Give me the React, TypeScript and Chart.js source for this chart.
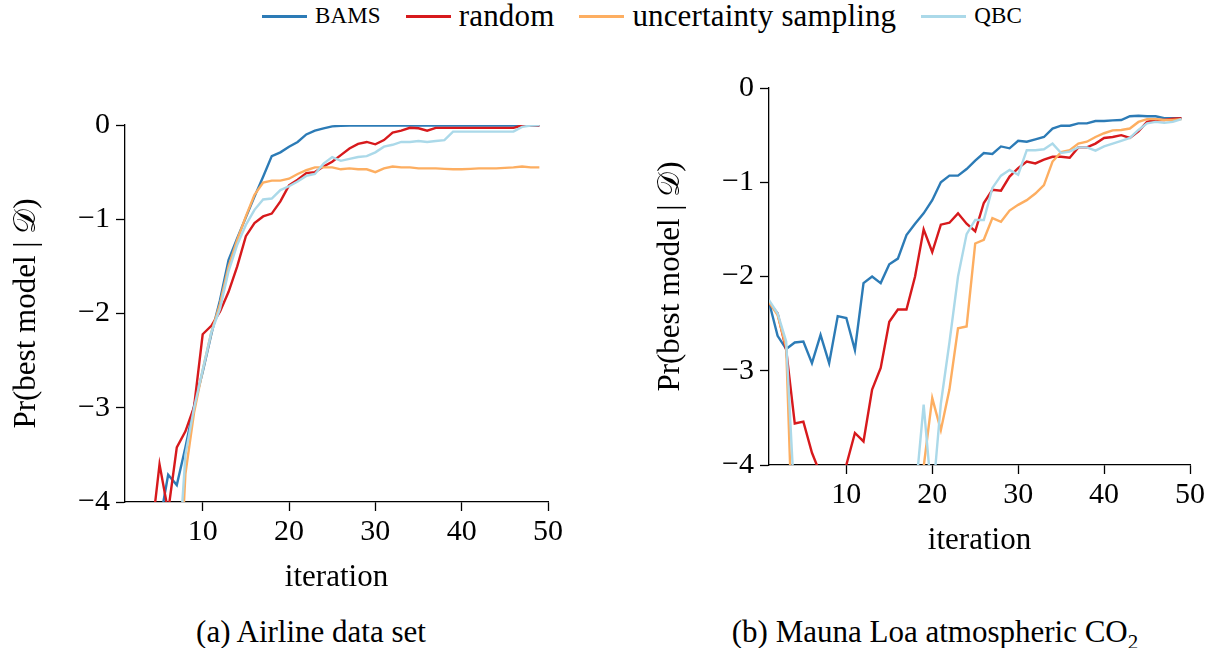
import React, { useEffect, useRef } from "react";
import { Chart, registerables } from "chart.js";

Chart.register(...registerables);

// ---------- data ----------
const ITERATIONS = [
  1, 2, 3, 4, 5, 6, 7, 8, 9, 10, 11, 12, 13, 14, 15, 16, 17, 18, 19, 20, 21, 22, 23, 24, 25,
  26, 27, 28, 29, 30, 31, 32, 33, 34, 35, 36, 37, 38, 39, 40, 41, 42, 43, 44, 45, 46, 47, 48, 49,
];
const X_TICKS = [10, 20, 30, 40, 50];
const Y_TICKS = [0, -1, -2, -3, -4];

const SERIES_LABELS = ["BAMS", "random", "uncertainty sampling", "QBC"];
const SERIES_COLORS = ["#2c7bb6", "#d7191c", "#fdae61", "#abd9e9"];

// (a) Airline data set
const AIRLINE_BAMS = [
  -6, -6, -6, -6, -4.23, -3.71, -3.82, -3.42, -2.98, -2.62, -2.22, -1.86, -1.43, -1.2, -0.98,
  -0.76, -0.55, -0.33, -0.29, -0.23, -0.18, -0.1, -0.06, -0.035, -0.015, -0.008, -0.005, -0.005,
  -0.005, -0.005, -0.005, -0.005, -0.005, -0.005, -0.005, -0.005, -0.005, -0.005, -0.005, -0.005,
  -0.005, -0.005, -0.005, -0.005, -0.005, -0.005, -0.005, -0.005, -0.005,
];
const AIRLINE_RANDOM = [
  -6, -6, -6, -4.4, -3.6, -4.1, -3.42, -3.25, -2.99, -2.22, -2.13, -1.98, -1.77, -1.5, -1.18,
  -1.04, -0.97, -0.94, -0.81, -0.64, -0.58, -0.51, -0.5, -0.44, -0.39, -0.32, -0.25, -0.2, -0.18,
  -0.205, -0.16, -0.08, -0.06, -0.03, -0.035, -0.06, -0.03, -0.03, -0.03, -0.03, -0.03, -0.03,
  -0.03, -0.03, -0.03, -0.03, -0.005, 0, -0.005,
];
const AIRLINE_UNCERTAINTY = [
  -8, -8, -8, -8, -8, -8, -5.5, -3.7, -3.05, -2.6, -2.2, -1.9, -1.5, -1.22, -0.97, -0.74, -0.61,
  -0.59, -0.59, -0.57, -0.52, -0.48, -0.45, -0.45, -0.45, -0.47, -0.46, -0.47, -0.47, -0.5, -0.46,
  -0.44, -0.45, -0.45, -0.46, -0.46, -0.46, -0.465, -0.47, -0.47, -0.465, -0.46, -0.46, -0.46,
  -0.455, -0.45, -0.44, -0.45, -0.45,
];
const AIRLINE_QBC = [
  -8, -8, -8, -8, -8, -8, -4.9, -3.5, -3.0, -2.6, -2.2, -1.95, -1.55, -1.27, -1.06, -0.9, -0.79,
  -0.78, -0.69, -0.65, -0.6, -0.54, -0.52, -0.41, -0.34, -0.38, -0.36, -0.34, -0.33, -0.29, -0.23,
  -0.21, -0.18, -0.18, -0.17, -0.18, -0.17, -0.16, -0.07, -0.07, -0.07, -0.07, -0.07, -0.07,
  -0.07, -0.07, -0.02, -0.005, 0,
];

// (b) Mauna Loa atmospheric CO2
const MAUNA_BAMS = [
  -2.27, -2.63, -2.77, -2.7, -2.69, -2.92, -2.62, -2.92, -2.42, -2.44, -2.78, -2.07, -2.0, -2.07,
  -1.87, -1.81, -1.56, -1.44, -1.33, -1.19, -1.0, -0.93, -0.93, -0.86, -0.77, -0.69, -0.7, -0.62,
  -0.64, -0.56, -0.57, -0.545, -0.52, -0.43, -0.4, -0.4, -0.375, -0.375, -0.35, -0.35, -0.343,
  -0.34, -0.3, -0.295, -0.3, -0.3, -0.32, -0.32, -0.32,
];
const MAUNA_RANDOM = [
  -2.28, -2.39, -2.78, -3.56, -3.54, -3.87, -4.1, -4.5, -4.5, -4.0, -3.66, -3.75, -3.2, -2.97,
  -2.48, -2.35, -2.35, -2.0, -1.5, -1.74, -1.45, -1.43, -1.33, -1.44, -1.52, -1.22, -1.08, -1.09,
  -0.94, -0.85, -0.78, -0.8, -0.76, -0.73, -0.73, -0.74, -0.63, -0.63, -0.59, -0.53, -0.52, -0.5,
  -0.53, -0.46, -0.36, -0.34, -0.34, -0.325, -0.32,
];
const MAUNA_UNCERTAINTY = [
  -2.27, -2.41, -2.75, -5.5, -7, -7, -7, -7, -7, -7, -7, -7, -7, -7, -7, -7, -7, -5.0, -4.02,
  -3.29, -3.63, -3.2, -2.55, -2.53, -1.65, -1.61, -1.38, -1.42, -1.3, -1.24, -1.19, -1.12, -1.03,
  -0.78, -0.68, -0.66, -0.59, -0.57, -0.52, -0.48, -0.45, -0.445, -0.43, -0.36, -0.33, -0.33,
  -0.34, -0.34, -0.33,
];
const MAUNA_QBC = [
  -2.25, -2.39, -2.69, -4.45, -7, -7, -7, -7, -7, -7, -7, -7, -7, -7, -7, -7, -6, -4.35, -3.36,
  -4.4, -3.35, -2.7, -2.0, -1.55, -1.4, -1.4, -1.06, -0.93, -0.87, -0.92, -0.66, -0.66, -0.65,
  -0.59, -0.69, -0.675, -0.63, -0.63, -0.665, -0.62, -0.59, -0.56, -0.53, -0.445, -0.375, -0.36,
  -0.37, -0.36, -0.33,
];

const X_TITLE = "iteration";
const Y_TITLE = "Pr(best model | \u{1D49F})";
const CAPTION_A = "(a) Airline data set";
const CAPTION_B_MAIN = "(b) Mauna Loa atmospheric CO";
const CAPTION_B_SUB = "2";

// ---------- styling ----------
const FONT = "'Liberation Serif', 'DejaVu Serif', serif";
const CANVAS_W_A = 600;
const CANVAS_W_B = 571;
const CANVAS_H = 540;

Chart.defaults.font.family = FONT;
Chart.defaults.color = "#000";

const fmtTick = (v: number) => (v < 0 ? "\u2212" + Math.abs(v) : String(v));

function makeConfig(series: number[][], padRight: number): any {
  return {
    type: "line",
    data: {
      datasets: series.map((vals, i) => ({
        label: SERIES_LABELS[i],
        data: ITERATIONS.map((x, j) => ({ x, y: vals[j] })),
        borderColor: SERIES_COLORS[i],
        backgroundColor: SERIES_COLORS[i],
        borderWidth: 2.4,
        pointRadius: 0,
        tension: 0,
        fill: false,
        order: series.length - i,
      })),
    },
    options: {
      animation: false,
      responsive: false,
      devicePixelRatio: 1,
      events: [],
      font: { family: FONT },
      layout: { padding: { left: 0, top: 65, right: padRight, bottom: 0 } },
      plugins: { legend: { display: false }, tooltip: { enabled: false } },
      scales: {
        x: {
          type: "linear",
          min: 1,
          max: 50,
          afterBuildTicks: (s: any) => {
            s.ticks = X_TICKS.map((v) => ({ value: v }));
          },
          afterFit: (s: any) => {
            s.height = 98;
          },
          grid: {
            display: true,
            drawOnChartArea: false,
            drawTicks: true,
            tickLength: 9,
            tickColor: "#000",
            tickWidth: 1.3,
          },
          border: { display: true, color: "#000", width: 1.3 },
          ticks: {
            color: "#000",
            font: { family: FONT, size: 30 },
            padding: 3,
            maxRotation: 0,
            autoSkip: false,
          },
          title: {
            display: true,
            text: X_TITLE,
            color: "#000",
            font: { family: FONT, size: 31, lineHeight: 1.2 },
            padding: { top: 0, bottom: 4 },
          },
        },
        y: {
          type: "linear",
          min: -4,
          max: 0,
          afterBuildTicks: (s: any) => {
            s.ticks = Y_TICKS.map((v) => ({ value: v }));
          },
          afterFit: (s: any) => {
            s.width = 125;
          },
          grid: {
            display: true,
            drawOnChartArea: false,
            drawTicks: true,
            tickLength: 9,
            tickColor: "#000",
            tickWidth: 1.3,
          },
          border: { display: true, color: "#000", width: 1.3 },
          ticks: {
            color: "#000",
            font: { family: FONT, size: 30 },
            padding: 6,
            callback: (v: number) => fmtTick(v),
          },
          title: {
            display: true,
            text: Y_TITLE,
            color: "#000",
            font: { family: FONT, size: 31, lineHeight: 1.2 },
            padding: { top: 8, bottom: 0 },
          },
        },
      },
    },
  };
}

function LineChart(props: { series: number[][]; width: number; padRight: number; left: number; top: number }) {
  const ref = useRef<HTMLCanvasElement | null>(null);
  useEffect(() => {
    if (!ref.current) return;
    const chart = new Chart(ref.current, makeConfig(props.series, props.padRight));
    return () => chart.destroy();
  }, []);
  return (
    <canvas
      ref={ref}
      width={props.width}
      height={CANVAS_H}
      style={{ position: "absolute", left: props.left, top: props.top, width: props.width, height: CANVAS_H }}
    />
  );
}

function Legend() {
  return (
    <div
      style={{
        position: "absolute",
        left: 262,
        top: 0,
        height: 32,
        display: "flex",
        alignItems: "center",
        fontFamily: FONT,
        fontSize: 31,
        color: "#000",
        whiteSpace: "nowrap",
      }}
    >
      {SERIES_LABELS.map((lab, i) => (
        <div key={lab} style={{ display: "flex", alignItems: "center", marginRight: 25 }}>
          <div style={{ width: 45, height: 3, background: SERIES_COLORS[i], marginRight: 8 }} />
          <span
            style={{
              fontSize: lab === "BAMS" || lab === "QBC" ? 23 : 31,
              letterSpacing: 0.15,
              lineHeight: "32px",
            }}
          >
            {lab}
          </span>
        </div>
      ))}
    </div>
  );
}

export default function App() {
  return (
    <div
      style={{
        position: "fixed",
        left: 0,
        top: 0,
        width: 1215,
        height: 648,
        background: "#fff",
        overflow: "hidden",
      }}
    >
      <Legend />
      <LineChart
        series={[AIRLINE_BAMS, AIRLINE_RANDOM, AIRLINE_UNCERTAINTY, AIRLINE_QBC]}
        width={CANVAS_W_A}
        padRight={52}
        left={0}
        top={60}
      />
      <LineChart
        series={[MAUNA_BAMS, MAUNA_RANDOM, MAUNA_UNCERTAINTY, MAUNA_QBC]}
        width={CANVAS_W_B}
        padRight={25}
        left={644}
        top={23}
      />
      <div
        style={{
          position: "absolute",
          left: 311 - 300,
          width: 600,
          top: 614,
          textAlign: "center",
          fontFamily: FONT,
          fontSize: 31,
          lineHeight: "36px",
          color: "#000",
          whiteSpace: "nowrap",
        }}
      >
        {CAPTION_A}
      </div>
      <div
        style={{
          position: "absolute",
          left: 935 - 300,
          width: 600,
          top: 614,
          textAlign: "center",
          fontFamily: FONT,
          fontSize: 31,
          lineHeight: "36px",
          color: "#000",
          whiteSpace: "nowrap",
        }}
      >
        {CAPTION_B_MAIN}
        <sub style={{ fontSize: 21, lineHeight: 0 }}>{CAPTION_B_SUB}</sub>
      </div>
    </div>
  );
}
